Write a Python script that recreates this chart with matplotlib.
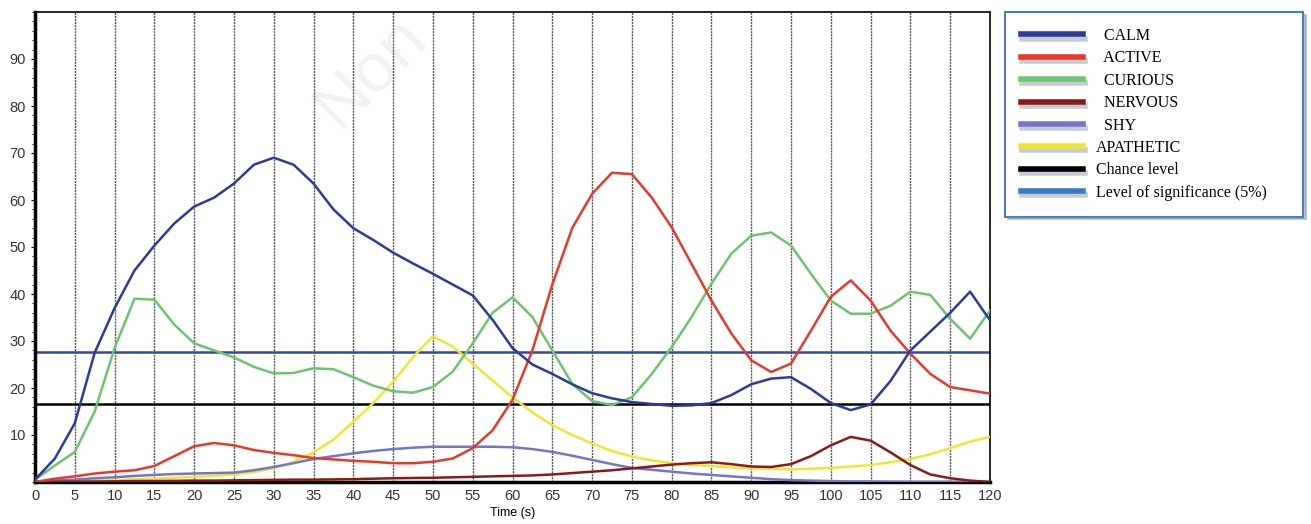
import matplotlib
matplotlib.use("Agg")
import matplotlib.pyplot as plt
import matplotlib.patheffects as pe
from matplotlib.lines import Line2D
from matplotlib.ticker import MultipleLocator

# time axis, one sample every 2.5 s
time_s = [i * 2.5 for i in range(49)]

calm = [0.5, 5, 12.5, 27.5, 37, 45, 50.3, 55, 58.6, 60.5, 63.5, 67.5, 69, 67.5, 63.5, 58, 54,
        51.5, 48.8, 46.5, 44.3, 42, 39.7, 34.5, 28.5, 25, 23, 20.8, 18.9, 17.8, 17, 16.6, 16.2,
        16.3, 16.8, 18.5, 20.8, 22, 22.3, 19.8, 16.8, 15.3, 16.5, 21.5, 28, 32, 36, 40.5, 34.4]
active = [0, 0.7, 1.2, 1.8, 2.2, 2.5, 3.4, 5.5, 7.6, 8.3, 7.8, 6.8, 6.2, 5.7, 5.1, 4.8, 4.5,
          4.3, 4.0, 4.0, 4.3, 5.0, 7.2, 11, 17.5, 28, 42, 54, 61.3, 65.8, 65.5, 60.5, 54.2,
          46.4, 38.6, 31.6, 25.9, 23.4, 25.2, 32.2, 39.4, 42.9, 38.6, 32.2, 27.3, 23, 20.2, 19.5, 18.8]
curious = [0.5, 3.5, 6.4, 15, 28.5, 39, 38.8, 33.5, 29.5, 28, 26.5, 24.5, 23.1, 23.2, 24.2, 24,
           22.3, 20.5, 19.3, 19, 20.2, 23.5, 29.5, 36, 39.3, 35.1, 28, 20.9, 17.2, 16.4, 18, 23,
           28.7, 35.1, 42.2, 48.6, 52.4, 53.1, 50.3, 44.3, 38.6, 35.8, 35.8, 37.5, 40.5, 39.8,
           34.7, 30.5, 36.5]
nervous = [0, 0.05, 0.1, 0.1, 0.15, 0.2, 0.2, 0.25, 0.3, 0.3, 0.35, 0.4, 0.45, 0.5, 0.5, 0.55,
           0.6, 0.7, 0.8, 0.85, 0.9, 1.0, 1.1, 1.2, 1.3, 1.4, 1.6, 1.9, 2.2, 2.5, 2.9, 3.3, 3.7,
           4.0, 4.2, 3.8, 3.3, 3.2, 3.8, 5.5, 7.8, 9.6, 8.8, 6.3, 3.6, 1.6, 0.8, 0.3, 0.0]
shy = [0, 0.3, 0.5, 0.8, 1.0, 1.3, 1.5, 1.7, 1.8, 1.9, 2.0, 2.5, 3.2, 4.0, 4.9, 5.5, 6.1, 6.6,
       7.0, 7.3, 7.5, 7.5, 7.5, 7.5, 7.4, 7.0, 6.4, 5.6, 4.7, 3.8, 3.0, 2.6, 2.2, 1.8, 1.5, 1.2,
       0.9, 0.6, 0.4, 0.3, 0.2, 0.1, 0.1, 0.05, 0, 0, 0, 0, 0]
apathetic = [0, 0.1, 0.2, 0.3, 0.4, 0.6, 0.7, 0.9, 1.1, 1.3, 1.6, 2.1, 2.9, 4.3, 6.3, 9.0, 12.8,
             16.8, 21.3, 26.6, 31.0, 28.8, 25.2, 21.6, 18.0, 14.8, 12.1, 10.0, 8.2, 6.6, 5.4, 4.6,
             4.0, 3.6, 3.4, 3.1, 2.9, 2.8, 2.7, 2.8, 3.0, 3.3, 3.6, 4.2, 4.9, 5.9, 7.2, 8.6, 9.6]

chance_level = 16.7
significance_level = 27.6

series = [
    ("  CALM", calm, "#2b3a9c"),
    ("  ACTIVE", active, "#e8382a"),
    ("  CURIOUS", curious, "#6cc46c"),
    ("  NERVOUS", nervous, "#8a1a16"),
    ("  SHY", shy, "#7474cc"),
    ("APATHETIC", apathetic, "#f0e632"),
]

fig = plt.figure(figsize=(13.11, 5.24), dpi=100)
ax = fig.add_axes([35 / 1311, 42 / 524, 955 / 1311, 470 / 524])

# faint watermark behind everything
ax.text(370 / 1311, 1 - 72 / 524, "Non", transform=fig.transFigure, fontsize=50,
        color="#f2f2f2", rotation=45, ha="center", va="center",
        family="Liberation Sans", zorder=0)

# vertical grid every 5 s
for t in range(5, 120, 5):
    ax.axvline(t, color="#555555", lw=1.0, ls=(0, (1.5, 0.7)), zorder=1)

ax.axhline(significance_level, color="#3344aa", lw=1.8, zorder=2)
ax.axhline(chance_level, color="black", lw=1.8, zorder=2)

for name, vals, col in reversed(series):
    ax.plot(time_s, vals, color=col, lw=1.8, zorder=3, solid_joinstyle="round")

ax.set_xlim(0, 120)
ax.set_ylim(0, 100)
ax.set_xticks(range(0, 121, 5))
ax.set_yticks(range(10, 91, 10))
ax.yaxis.set_minor_locator(MultipleLocator(2))
ax.tick_params(axis="both", labelsize=10.5, labelcolor="#333333", length=3, width=0.8)
ax.tick_params(axis="y", which="minor", length=2, width=0.6)
ax.tick_params(axis="x", length=0, pad=5)
for lab in ax.get_xticklabels() + ax.get_yticklabels():
    lab.set_fontfamily("Liberation Sans")
ax.set_xlabel("Time (s)", fontsize=9, family="Liberation Sans", labelpad=3)

ax.spines["left"].set_linewidth(2.5)
ax.spines["bottom"].set_linewidth(2.5)
ax.spines["top"].set_linewidth(1.2)
ax.spines["right"].set_linewidth(1.2)

# legend with its own colours
shadow = [pe.SimpleLineShadow(offset=(1, -3), shadow_color="#9099aa", alpha=0.5), pe.Normal()]
handles = []
labels = []
for name, vals, col in series:
    handles.append(Line2D([0], [0], color=col, lw=4, path_effects=shadow))
    labels.append(name)
handles.append(Line2D([0], [0], color="black", lw=4, path_effects=shadow))
labels.append("Chance level")
handles.append(Line2D([0], [0], color="#3a78c8", lw=4, path_effects=shadow))
labels.append("Level of significance (5%)")

leg = fig.legend(handles, labels, loc="upper left", mode="expand",
                 bbox_to_anchor=(1005 / 1311, 1 - 12 / 524, 298 / 1311, 0),
                 prop={"family": "Liberation Serif", "size": 11.5}, handlelength=3.9,
                 handletextpad=0.8, labelspacing=0.4, borderpad=1.0, fancybox=False,
                 shadow={"color": "#8890a0", "alpha": 0.5}, framealpha=1, borderaxespad=0)
leg.get_frame().set_edgecolor("#4a7cc4")
leg.get_frame().set_linewidth(1.5)

fig.savefig("out.png", dpi=100)
